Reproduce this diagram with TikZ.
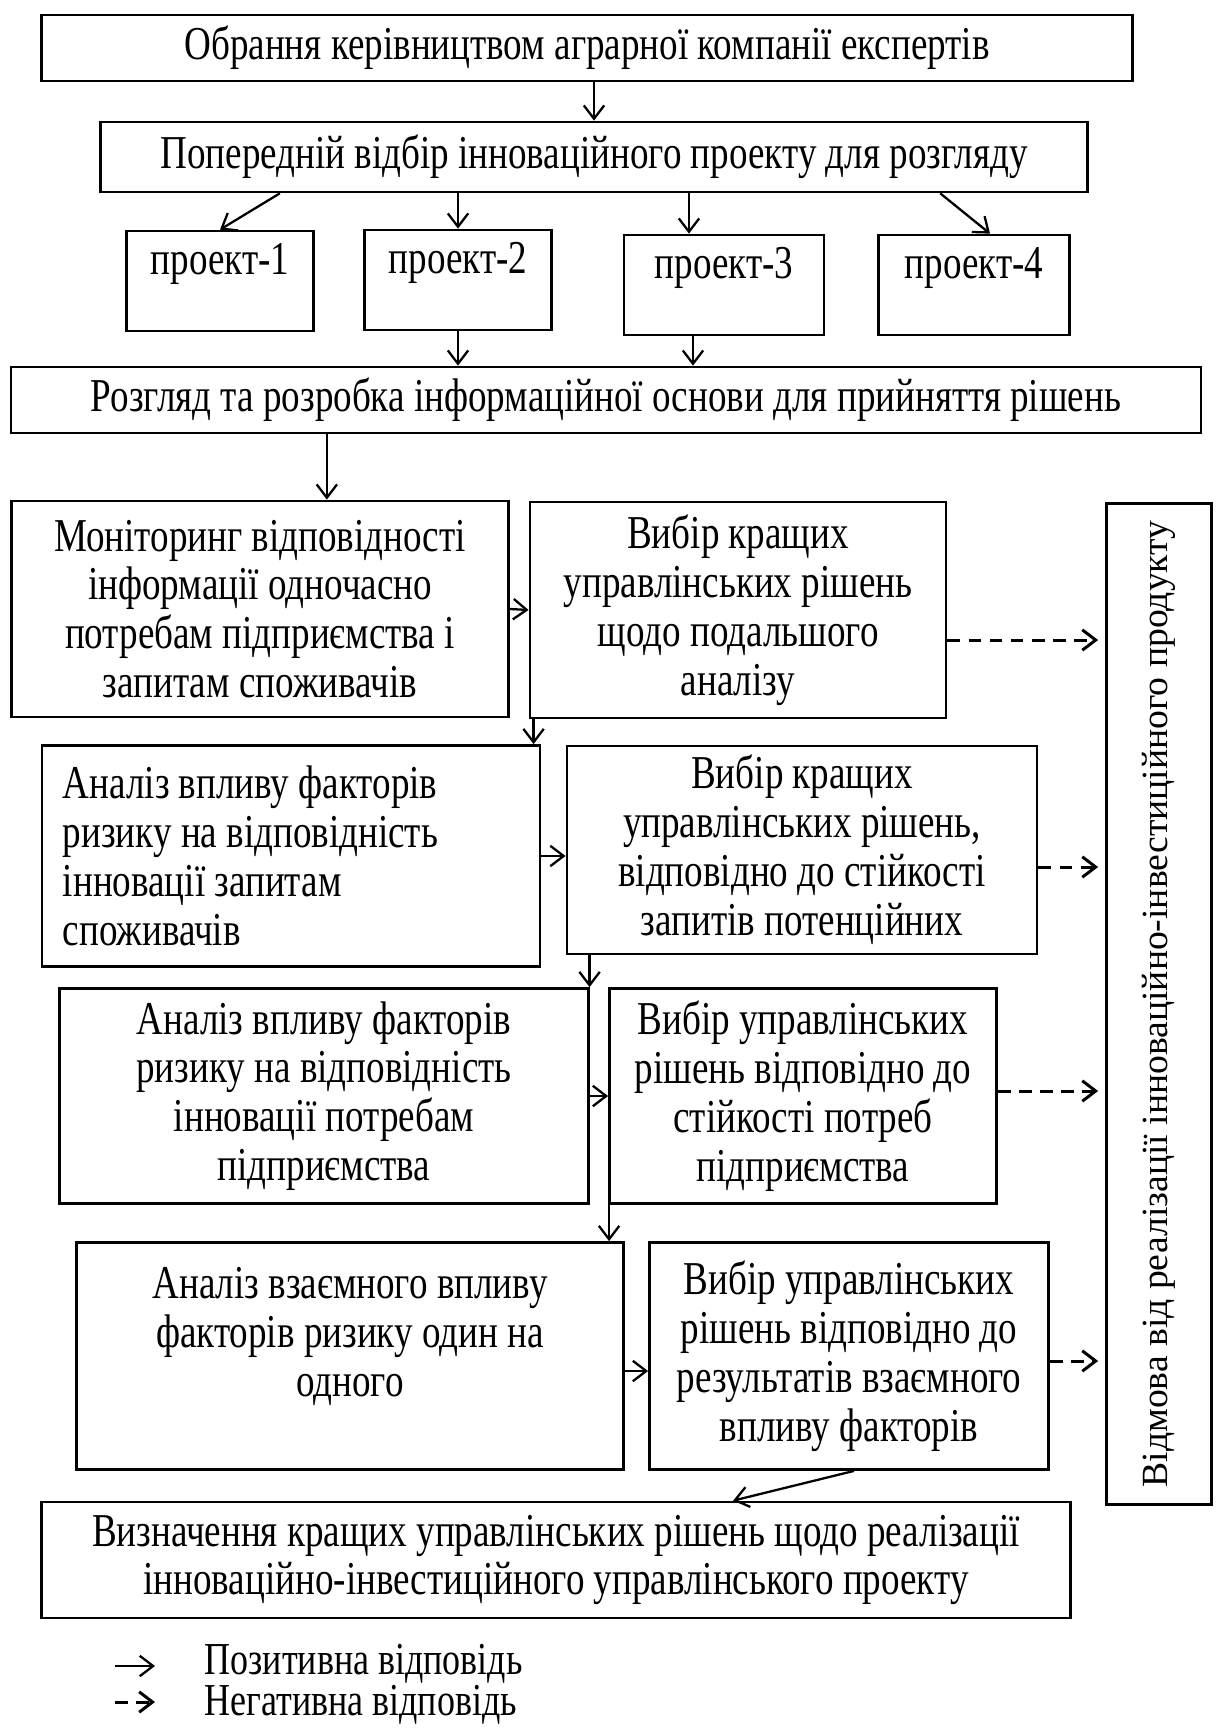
\documentclass[tikz,border=0pt]{standalone}
\usepackage{fontspec}
\setmainfont{Liberation Serif}[FakeStretch=0.787]
\newfontfamily\widefont{Liberation Serif}[FakeStretch=1.02]
\usetikzlibrary{arrows.meta}

\begin{document}
\begin{tikzpicture}[x=0.01cm, y=-0.01cm,
    every node/.style={font=\fontsize{13.4}{13.9}\selectfont},
    box/.style={draw, line width=0.75pt, align=center, inner sep=0pt},
    project/.style={box, minimum height=1cm, text height=0.35cm, text depth=0.47cm},
    yes/.style={-{Straight Barb[length=3.8pt,width=5.8pt]}, line width=0.65pt},
    no/.style={yes, line width=0.85pt, dash pattern=on 3.6pt off 2.4pt}]

    \useasboundingbox (0,0) rectangle (1220,1728);

    % Experts and preliminary selection
    \node[box, minimum width=10.9cm, minimum height=0.66cm] (experts) at (587,48)
        {Обрання керівництвом аграрної компанії експертів};
    \node[box, minimum width=9.86cm, minimum height=0.70cm] (selection) at (594,157)
        {Попередній відбір інноваційного проекту для розгляду};
    \draw[yes] (selection.north |- experts.south) -- (selection.north);

    % Projects
    \node[project, minimum width=1.87cm] (p1) at (220,281) {проект-1};
    \node[project, minimum width=1.87cm] (p2) at (458,280) {проект-2};
    \node[project, minimum width=2.00cm] (p3) at (724,285) {проект-3};
    \node[project, minimum width=1.91cm] (p4) at (974,285) {проект-4};
    \draw[yes] ([xshift=-3.14cm]selection.south) -- (p1.north);
    \draw[yes] (p2.north |- selection.south) -- (p2.north);
    \draw[yes] ([xshift=-0.35cm]p3.north |- selection.south) -- ([xshift=-0.35cm]p3.north);
    \draw[yes] ([xshift=3.46cm]selection.south) -- ([xshift=0.16cm]p4.north);

    % Information base
    \node[box, minimum width=11.89cm, minimum height=0.66cm] (review) at (606,400)
        {Розгляд та розробка інформаційної основи для прийняття рішень};
    \draw[yes] (p2.south) -- (p2.south |- review.north);
    \draw[yes] ([xshift=-0.31cm]p3.south) -- ([xshift=-0.31cm]p3.south |- review.north);

    % Analysis steps (left) and decisions (right)
    \node[box, minimum width=4.97cm, minimum height=2.16cm] (monitor) at (260,609)
        {Моніторинг відповідності\\інформації одночасно\\потребам підприємства і\\запитам споживачів};
    \node[box, minimum width=4.16cm, minimum height=2.16cm] (choice1) at (738,610)
        {Вибір кращих\\управлінських рішень\\щодо подальшого\\аналізу};
    \node[box, minimum width=4.98cm, minimum height=2.21cm, align=flush left, text width=4.56cm] (analysis1) at (291,856)
        {Аналіз впливу факторів\\ризику на відповідність\\інновації запитам\\споживачів};
    \node[box, minimum width=4.70cm, minimum height=2.08cm] (choice2) at (802,850)
        {Вибір кращих\\управлінських рішень,\\відповідно до стійкості\\запитів потенційних};
    \node[box, minimum width=5.29cm, minimum height=2.15cm] (analysis2) at (324,1096)
        {Аналіз впливу факторів\\ризику на відповідність\\інновації потребам\\підприємства};
    \node[box, minimum width=3.87cm, minimum height=2.15cm] (choice3) at (803,1096)
        {Вибір управлінських\\рішень відповідно до\\стійкості потреб\\підприємства};
    \node[box, minimum width=5.47cm, minimum height=2.27cm] (analysis3) at (350,1356)
        {Аналіз взаємного впливу\\факторів ризику один на\\одного\\~};
    \node[box, minimum width=3.99cm, minimum height=2.27cm] (choice4) at (849,1356)
        {Вибір управлінських\\рішень відповідно до\\результатів взаємного\\впливу факторів};
    \draw[yes] ([xshift=-2.79cm]review.south) -- ([xshift=-2.79cm]review.south |- monitor.north);
    \draw[yes] (monitor.east) -- (choice1.west);
    \draw[yes] ([xshift=0.05cm]choice1.south west) -- ([xshift=0.05cm]choice1.south west |- analysis1.north);
    \draw[yes] (analysis1.east) -- (analysis1.east -| choice2.west);
    \draw[yes] ([xshift=0.24cm]choice2.south west) -- ([xshift=0.24cm]choice2.south west |- analysis2.north);
    \draw[yes] (analysis2.east) -- (choice3.west);
    \draw[yes] ([xshift=0.01cm]choice3.south west) -- ([xshift=0.01cm]choice3.south west |- analysis3.north);
    \draw[yes] ([yshift=-0.15cm]analysis3.east) -- ([yshift=-0.15cm]choice4.west);

    % Refusal
    \node[box, rotate=90, minimum width=10.0cm, minimum height=1.05cm,
          font=\widefont\fontsize{10.5}{12}\selectfont] (refuse) at (1159,1004)
        {Відмова від реалізації інноваційно-інвестиційного продукту};
    \draw[no, shorten >=2pt] ([yshift=-0.30cm]choice1.east) -- ([yshift=-0.30cm]choice1.east -| refuse.north);
    \draw[no, shorten >=2pt] ([yshift=-0.17cm]choice2.east) -- ([yshift=-0.17cm]choice2.east -| refuse.north);
    \draw[no, shorten >=2pt] ([yshift=0.05cm]choice3.east) -- ([yshift=0.05cm]choice3.east -| refuse.north);
    \draw[no, shorten >=2pt] ([yshift=-0.05cm]choice4.east) -- ([yshift=-0.05cm]choice4.east -| refuse.north);

    % Final decision
    \node[box, minimum width=10.29cm, minimum height=1.16cm] (final) at (556,1560)
        {Визначення кращих управлінських рішень щодо реалізації\\інноваційно-інвестиційного управлінського проекту};
    \draw[yes] ([xshift=0.05cm]choice4.south) -- ([xshift=1.77cm]final.north);

    % Legend
    \node[anchor=west, inner sep=0pt, font=\fontsize{13}{13.9}\selectfont] (legyes) at (204,1664) {Позитивна відповідь};
    \node[anchor=west, inner sep=0pt, font=\fontsize{13}{13.9}\selectfont] (legno) at (204,1705) {Негативна відповідь};
    \coordinate (ly) at (115,1666);
    \coordinate (ln) at (115,1702);
    \draw[yes] (ly) -- ++(40,0);
    \draw[no] (ln) -- ++(40,0);

\end{tikzpicture}
\end{document}
